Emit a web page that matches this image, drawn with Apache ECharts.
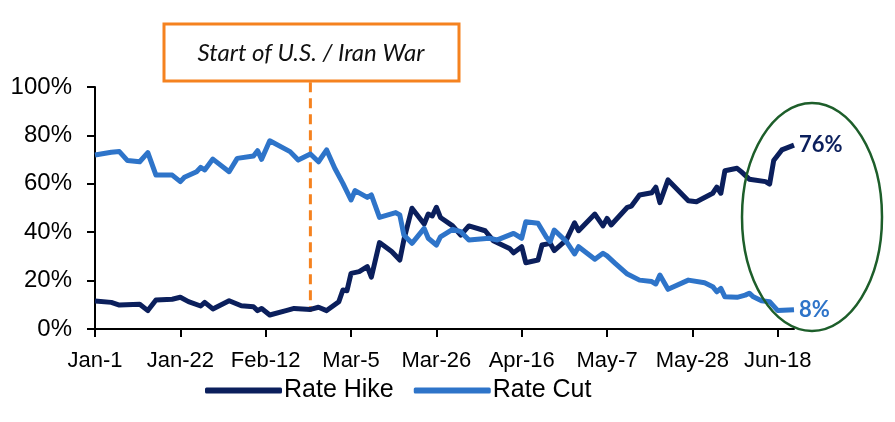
<!DOCTYPE html>
<html>
<head>
<meta charset="utf-8">
<script src="https://cdn.jsdelivr.net/npm/echarts@6/dist/echarts.min.js"></script>
<style>
  html, body { margin: 0; padding: 0; background: #fff; }
  #main { width: 895px; height: 422px; }
</style>
</head>
<body>
<div id="main"></div>
<script>
// x = days since Jan-1, y = probability in %
const hikeDays = [0, 4, 6, 11, 13, 15, 19, 21, 23, 26, 27, 29, 33, 36, 39, 40, 41, 43, 47, 49, 53, 55, 57, 60, 61, 62, 63, 65, 67, 68, 70, 73, 75, 76, 78, 81, 82, 83, 84, 85, 88, 90, 92, 96, 98, 102, 103, 105, 106, 109, 110, 112, 113, 116, 118, 119, 123, 125, 126, 127, 131, 132, 134, 137, 138, 139, 141, 146, 148, 152, 153, 154, 155, 158, 159, 161, 165, 166, 167, 169, 172];
const hikeVals = [11.6, 11, 9.9, 10.2, 7.6, 12, 12.3, 13.1, 11.3, 9.5, 11, 8.3, 11.7, 9.6, 9.2, 7.6, 8.5, 5.8, 7.6, 8.5, 8.1, 9, 7.6, 11.3, 16.1, 15.8, 23, 23.7, 25.8, 21.4, 35.7, 32, 28.5, 36.8, 49.9, 43.4, 47.5, 46.7, 50.3, 46.1, 42.6, 38.8, 42.6, 40.6, 36.5, 33.3, 31.5, 34, 27.4, 28.5, 34.7, 35.4, 32.4, 36.8, 43.9, 40.6, 47.5, 42.6, 45.7, 43, 50.3, 50.8, 55.4, 56.3, 58.6, 52.2, 61.6, 53, 52.6, 56.1, 58.6, 56.1, 65.4, 66.4, 65, 61.9, 60.9, 59.9, 69.6, 74, 76];

const cutDays = [0, 4, 6, 8, 11, 13, 15, 19, 21, 22, 25, 26, 27, 29, 33, 35, 39, 40, 41, 43, 48, 50, 53, 55, 57, 59, 61, 63, 64, 67, 68, 70, 74, 75, 76, 78, 81, 82, 84, 85, 88, 90, 92, 97, 99, 103, 105, 106, 109, 111, 112, 113, 116, 118, 119, 123, 125, 126, 128, 131, 134, 137, 138, 139, 141, 146, 150, 152, 153, 154, 155, 158, 160, 161, 162, 164, 166, 168, 172];
const cutVals = [71.9, 73, 73.3, 69.6, 69.1, 72.9, 63.6, 63.6, 60.9, 62.7, 65, 66.8, 65.7, 70.2, 65, 70.5, 71.5, 73.7, 70.1, 77.8, 73.3, 69.8, 72.3, 69.1, 74, 66.4, 60.2, 53.3, 57.2, 54.4, 55.4, 46.1, 48.1, 47.1, 38.8, 35.4, 41.6, 37.5, 34.7, 38.1, 41.2, 40.2, 36.8, 37.5, 36.8, 39.5, 37.5, 44.3, 43.7, 38.1, 36.1, 40.9, 36.1, 31, 34, 28.8, 31.3, 30.2, 27.1, 22.7, 20.2, 19.6, 18.6, 22.3, 16.4, 20.2, 19.1, 17.5, 15.4, 16.8, 13.3, 13.1, 14, 14.8, 13.3, 11.7, 11.3, 7.6, 8];

const tickDays = [0, 21, 42, 63, 84, 105, 126, 147, 168];
const tickLabels = ['Jan-1', 'Jan-22', 'Feb-12', 'Mar-5', 'Mar-26', 'Apr-16', 'May-7', 'May-28', 'Jun-18'];
const warDay = 53;

const zip = (xs, ys) => xs.map((x, i) => [x, ys[i]]);

const navy = '#0b1f5c';
const blue = '#2e74c9';
const orange = '#f5821f';

const myChart = echarts.init(document.getElementById('main'));

const option = {
  animation: false,
  grid: { left: 95, right: 101, top: 87, bottom: 93 },
  legend: {
    left: 200,
    top: 373,
    icon: 'roundRect',
    itemWidth: 77,
    itemHeight: 6,
    itemGap: 20,
    textStyle: { fontFamily: 'Liberation Sans', fontSize: 25, color: '#000', padding: [0, 0, 0, -3] },
    data: ['Rate Hike', 'Rate Cut']
  },
  xAxis: {
    type: 'value',
    min: 0,
    max: 172,
    axisLine: { lineStyle: { color: '#000', width: 2 } },
    axisTick: { show: true, length: 8, lineStyle: { color: '#000', width: 2 }, customValues: tickDays },
    axisLabel: {
      customValues: tickDays,
      formatter: v => tickLabels[tickDays.indexOf(v)] || '',
      margin: 21,
      fontFamily: 'Liberation Sans',
      fontSize: 22,
      color: '#000'
    },
    splitLine: { show: false }
  },
  yAxis: {
    type: 'value',
    min: 0,
    max: 100,
    interval: 20,
    axisLine: { show: true, lineStyle: { color: '#000', width: 2 } },
    axisTick: { show: true, length: 8, lineStyle: { color: '#000', width: 2 } },
    axisLabel: {
      formatter: '{value}%',
      margin: 23,
      fontFamily: 'Liberation Sans',
      fontSize: 24,
      color: '#000'
    },
    splitLine: { show: false }
  },
  series: [
    {
      name: 'Rate Hike',
      type: 'line',
      data: zip(hikeDays, hikeVals),
      showSymbol: false,
      color: navy,
      lineStyle: { width: 5, color: navy, join: 'round' },
      endLabel: {
        show: true,
        formatter: p => Math.round(p.value[1]) + '%',
        distance: 5,
        fontFamily: 'Lato',
        fontWeight: 'bold',
        fontSize: 22,
        color: navy
      }
    },
    {
      name: 'Rate Cut',
      type: 'line',
      data: zip(cutDays, cutVals),
      showSymbol: false,
      color: blue,
      lineStyle: { width: 5, color: blue, join: 'round' },
      endLabel: {
        show: true,
        formatter: p => Math.round(p.value[1]) + '%',
        distance: 5,
        fontFamily: 'Lato',
        fontWeight: 'bold',
        fontSize: 22,
        color: blue
      }
    }
  ]
};

option && myChart.setOption(option);

// annotations: war start marker + highlight ellipse
const warTop = myChart.convertToPixel({ gridIndex: 0 }, [warDay, 102]);
const warBottom = myChart.convertToPixel({ gridIndex: 0 }, [warDay, 7]);

myChart.setOption({
  graphic: [
    {
      type: 'line',
      shape: { x1: warTop[0], y1: warTop[1], x2: warBottom[0], y2: warBottom[1] },
      style: { stroke: orange, lineWidth: 3, lineDash: [10, 6] },
      z: 1
    },
    {
      type: 'rect',
      shape: { x: 164, y: 24, width: 295, height: 57 },
      style: { fill: '#fff', stroke: orange, lineWidth: 3 },
      z: 10
    },
    {
      type: 'text',
      x: 311,
      y: 53,
      style: {
        text: 'Start of U.S. / Iran War',
        fontFamily: 'Lato',
        fontStyle: 'italic',
        fontSize: 24,
        fill: '#111',
        align: 'center',
        verticalAlign: 'middle'
      },
      z: 11
    },
    {
      type: 'ellipse',
      shape: { cx: 812, cy: 217, rx: 70, ry: 114 },
      style: { fill: 'none', stroke: '#1d5e2a', lineWidth: 2.5 },
      z: 5
    }
  ]
});
</script>
</body>
</html>
